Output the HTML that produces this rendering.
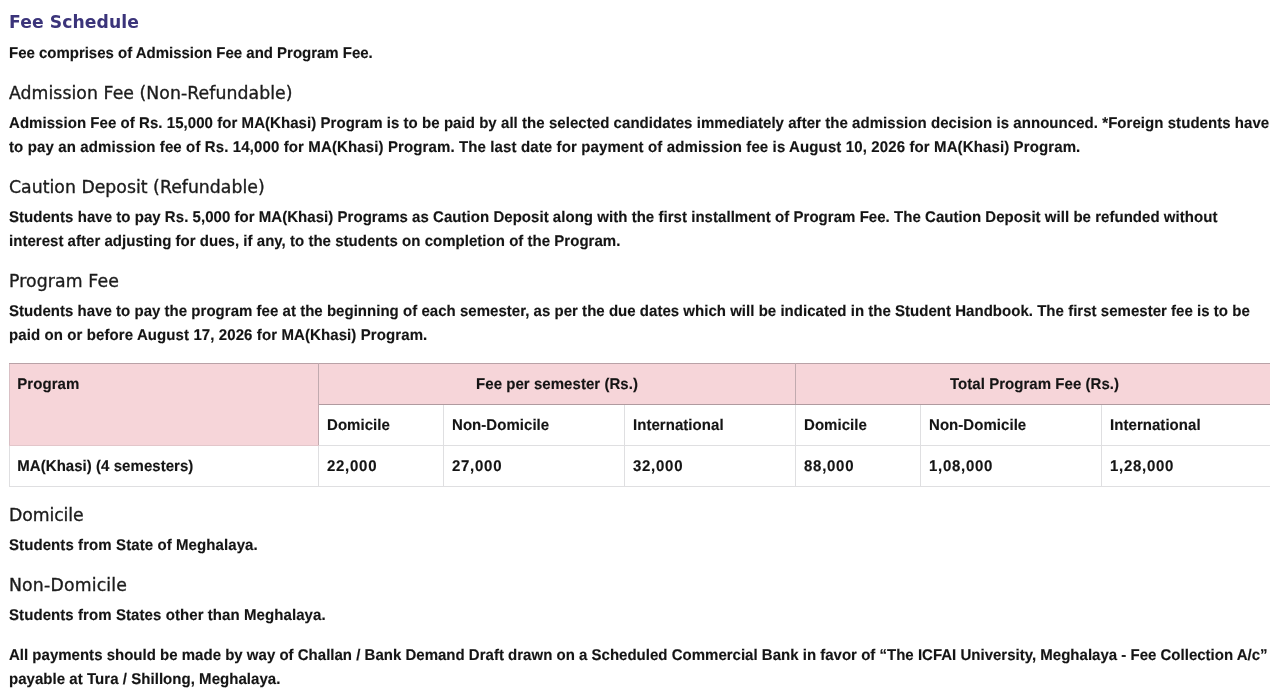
<!DOCTYPE html>
<html lang="en">
<head>
<meta charset="utf-8">
<title>Fee Schedule</title>
<style>
html,body{margin:0;padding:0;background:#fff;}
body{width:1270px;height:697px;position:relative;overflow:hidden;font-family:"Liberation Sans",sans-serif;color:#1a1a1a;}
.l{position:absolute;left:9px;white-space:nowrap;margin:0;}
.b{font:bold 15px/24px "Liberation Sans",sans-serif;color:#141414;letter-spacing:0.045px;text-rendering:geometricPrecision;transform:scaleY(1.035);transform-origin:0 17px;-webkit-text-stroke:0.15px #141414;}
.h{font:bold 17.2px/24px "DejaVu Sans","Liberation Sans",sans-serif;color:#3b347a;}
.s{font:normal 17.3px/24px "DejaVu Sans","Liberation Sans",sans-serif;color:#1c1c1c;-webkit-text-stroke:0.35px #1c1c1c;}
table{position:absolute;left:9px;top:363px;border-collapse:collapse;table-layout:fixed;width:1264px;font:bold 15px/24px "Liberation Sans",sans-serif;color:#141414;letter-spacing:0.045px;}
td,th{border:1px solid #dfdfe1;padding:1px 8px 1px;height:41px;text-align:left;vertical-align:middle;font-weight:bold;box-sizing:border-box;}
.n{letter-spacing:0.72px;}
td span,th span{display:inline-block;-webkit-text-stroke:0.15px #141414;text-rendering:geometricPrecision;transform:scaleY(1.035);transform-origin:0 17px;}
.p{background:#f6d5d9;border-color:#b9a2a7 #c1aaaf #b09a9f #c1aaaf;}
.p1{border-left-color:#d9c0c5;border-bottom-color:#e3c6ca;}
</style>
</head>
<body>
<h1 class="l h" style="top:10.4px;letter-spacing:0.091px">Fee Schedule</h1>
<p class="l b" style="top:42px;letter-spacing:-0.017px">Fee comprises of Admission Fee and Program Fee.</p>
<h2 class="l s" style="top:80.85px;letter-spacing:0.062px">Admission Fee (Non-Refundable)</h2>
<p class="l b" style="top:112px;letter-spacing:0.053px">Admission Fee of Rs. 15,000 for MA(Khasi) Program is to be paid by all the selected candidates immediately after the admission decision is announced. *Foreign students have</p>
<p class="l b" style="top:136px;letter-spacing:0.121px">to pay an admission fee of Rs. 14,000 for MA(Khasi) Program. The last date for payment of admission fee is August 10, 2026 for MA(Khasi) Program.</p>
<h2 class="l s" style="top:174.85px;letter-spacing:0.022px">Caution Deposit (Refundable)</h2>
<p class="l b" style="top:206px;letter-spacing:0.040px">Students have to pay Rs. 5,000 for MA(Khasi) Programs as Caution Deposit along with the first installment of Program Fee. The Caution Deposit will be refunded without</p>
<p class="l b" style="top:230px;letter-spacing:0.028px">interest after adjusting for dues, if any, to the students on completion of the Program.</p>
<h2 class="l s" style="top:268.85px;letter-spacing:0.120px">Program Fee</h2>
<p class="l b" style="top:300px;letter-spacing:0.027px">Students have to pay the program fee at the beginning of each semester, as per the due dates which will be indicated in the Student Handbook. The first semester fee is to be</p>
<p class="l b" style="top:324px;letter-spacing:0.098px">paid on or before August 17, 2026 for MA(Khasi) Program.</p>
<table>
<colgroup><col style="width:309px"><col style="width:125px"><col style="width:181px"><col style="width:171px"><col style="width:125px"><col style="width:181px"><col style="width:172px"></colgroup>
<tr><th class="p p1" rowspan="2" style="vertical-align:top;padding-top:8px;padding-left:7.3px"><span>Program</span></th><th class="p" colspan="3" style="text-align:center"><span>Fee per semester (Rs.)</span></th><th class="p" colspan="3" style="text-align:center"><span>Total Program Fee (Rs.)</span></th></tr>
<tr><th><span>Domicile</span></th><th><span>Non-Domicile</span></th><th><span>International</span></th><th><span>Domicile</span></th><th><span>Non-Domicile</span></th><th><span>International</span></th></tr>
<tr><td style="padding-left:7.3px"><span>MA(Khasi) (4 semesters)</span></td><td class="n"><span>22,000</span></td><td class="n"><span>27,000</span></td><td class="n"><span>32,000</span></td><td class="n"><span>88,000</span></td><td class="n"><span>1,08,000</span></td><td class="n"><span>1,28,000</span></td></tr>
</table>
<h2 class="l s" style="top:502.85px;letter-spacing:-0.086px">Domicile</h2>
<p class="l b" style="top:534px;letter-spacing:0.087px">Students from State of Meghalaya.</p>
<h2 class="l s" style="top:572.85px;letter-spacing:0.182px">Non-Domicile</h2>
<p class="l b" style="top:604px;letter-spacing:0.078px">Students from States other than Meghalaya.</p>
<p class="l b" style="top:644px;letter-spacing:0.010px">All payments should be made by way of Challan / Bank Demand Draft drawn on a Scheduled Commercial Bank in favor of “The ICFAI University, Meghalaya - Fee Collection A/c”</p>
<p class="l b" style="top:668px;letter-spacing:0.043px">payable at Tura / Shillong, Meghalaya.</p>
</body>
</html>
